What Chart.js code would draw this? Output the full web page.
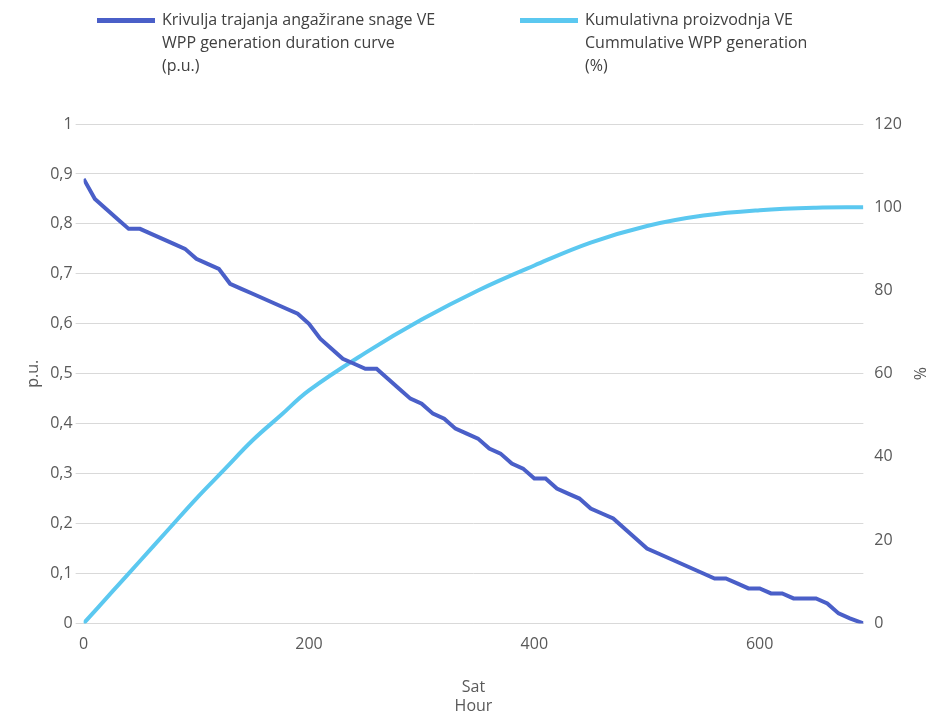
<!DOCTYPE html>
<html>
<head>
<meta charset="utf-8">
<script src="https://cdn.jsdelivr.net/npm/chart.js@4"></script>
<style>
  body { margin: 0; background: #fff; font-family: 'Open Sans', sans-serif; }
  #wrap { position: relative; width: 944px; height: 718px; }
  #legend { position: absolute; top: 8px; left: 0; width: 944px; font-size: 16px; color: #404040; line-height: 23px; }
  .item { position: absolute; top: 0; }
  .swatch { position: absolute; left: 0; top: 10px; width: 58px; height: 5px; }
  .txt { margin-left: 65px; white-space: nowrap; }
</style>
</head>
<body>
<div id="wrap">
  <canvas id="c" width="944" height="718"></canvas>
  <div id="legend"></div>
</div>
<script>
const hours = [0, 10, 20, 30, 40, 50, 60, 70, 80, 90, 100, 110, 120, 130, 140, 150, 160, 170, 180, 190,
  200, 210, 220, 230, 240, 250, 260, 270, 280, 290, 300, 310, 320, 330, 340, 350, 360, 370, 380, 390,
  400, 410, 420, 430, 440, 450, 460, 470, 480, 490, 500, 510, 520, 530, 540, 550, 560, 570, 580, 590,
  600, 610, 620, 630, 640, 650, 660, 670, 680, 692];
const durationPu = [0.89, 0.85, 0.83, 0.81, 0.79, 0.79, 0.78, 0.77, 0.76, 0.75, 0.73, 0.72, 0.71, 0.68, 0.67, 0.66, 0.65, 0.64, 0.63, 0.62,
  0.60, 0.57, 0.55, 0.53, 0.52, 0.51, 0.51, 0.49, 0.47, 0.45, 0.44, 0.42, 0.41, 0.39, 0.38, 0.37, 0.35, 0.34, 0.32, 0.31,
  0.29, 0.29, 0.27, 0.26, 0.25, 0.23, 0.22, 0.21, 0.19, 0.17, 0.15, 0.14, 0.13, 0.12, 0.11, 0.10, 0.09, 0.09, 0.08, 0.07,
  0.07, 0.06, 0.06, 0.05, 0.05, 0.05, 0.04, 0.02, 0.01, 0.0];
const cumHours = [0, 25, 50, 75, 100, 125, 150, 175, 200, 250, 300, 350, 400, 450, 500, 550, 600, 650, 692];
const cumPercent = [0, 7.5, 15, 22.5, 30, 37, 44, 50, 56, 65, 73, 80, 86, 91.5, 95.5, 98, 99.3, 99.9, 100];
const seriesLabels = [
  ['Krivulja trajanja angažirane snage VE', 'WPP generation duration curve', '(p.u.)'],
  ['Kumulativna proizvodnja VE', 'Cummulative WPP generation', '(%)']
];
const colors = ['#4a5fc8', '#5bc8f0'];

const legend = document.getElementById('legend');
[[97, 0], [520, 1]].forEach(([x, i]) => {
  const d = document.createElement('div');
  d.className = 'item';
  d.style.left = x + 'px';
  d.innerHTML = '<div class="swatch" style="background:' + colors[i] + '"></div><div class="txt">' + seriesLabels[i].join('<br>') + '</div>';
  legend.appendChild(d);
});

Chart.defaults.font.family = "'Open Sans', sans-serif";
Chart.defaults.font.size = 16;
Chart.defaults.color = '#595959';

new Chart(document.getElementById('c'), {
  type: 'line',
  data: {
    datasets: [
      {
        label: seriesLabels[0].join(' '),
        data: hours.map((h, i) => ({ x: h, y: durationPu[i] })),
        borderColor: colors[0], borderWidth: 4, pointRadius: 0, tension: 0, yAxisID: 'y'
      },
      {
        label: seriesLabels[1].join(' '),
        data: cumHours.map((h, i) => ({ x: h, y: cumPercent[i] })),
        borderColor: colors[1], borderWidth: 4, pointRadius: 0, tension: 0.4, yAxisID: 'y1'
      }
    ]
  },
  options: {
    responsive: false,
    animation: false,
    layout: { padding: { top: 124, left: 20, right: 12, bottom: 2 } },
    plugins: { legend: { display: false }, tooltip: { enabled: false } },
    scales: {
      x: {
        type: 'linear', min: 0, max: 692,
        afterBuildTicks: s => { s.ticks = [0, 200, 400, 600].map(v => ({ value: v })); },
        grid: { display: false },
        border: { color: '#d9d9d9' },
        title: { display: true, text: ['Sat', 'Hour'], padding: { top: 21, bottom: 0 } }
      },
      y: {
        position: 'left', min: 0, max: 1,
        ticks: { stepSize: 0.1, callback: v => String(Math.round(v * 10) / 10).replace('.', ',') },
        grid: { color: '#d9d9d9' },
        border: { display: false },
        title: { display: true, text: 'p.u.' }
      },
      y1: {
        position: 'right', min: 0, max: 120,
        ticks: { stepSize: 20 },
        grid: { display: false },
        border: { display: false },
        title: { display: true, text: '%' }
      }
    }
  }
});
</script>
</body>
</html>
